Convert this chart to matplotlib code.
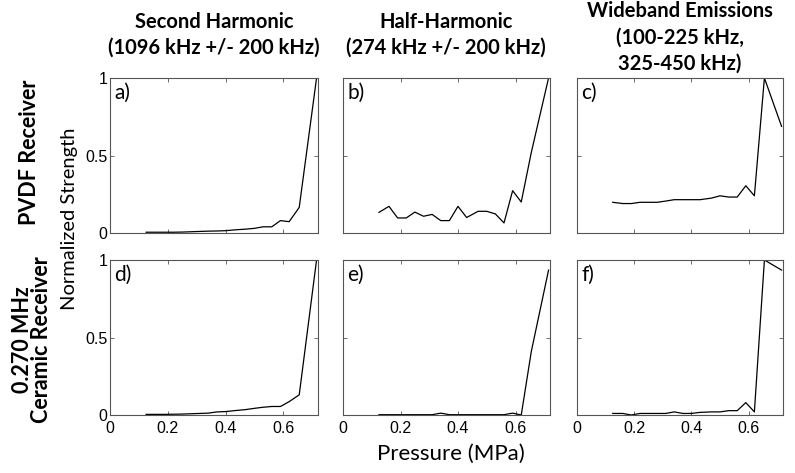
import matplotlib
matplotlib.use("Agg")
import matplotlib.pyplot as plt

pressure = [0.125, 0.16, 0.19, 0.22, 0.25, 0.28, 0.31, 0.34, 0.37, 0.40,
            0.43, 0.47, 0.50, 0.53, 0.56, 0.59, 0.62, 0.655, 0.715]

pvdf_second = [0.005, 0.005, 0.005, 0.005, 0.006, 0.008, 0.01, 0.012, 0.013, 0.015,
               0.02, 0.025, 0.03, 0.04, 0.04, 0.08, 0.073, 0.165, 1.0]
pvdf_half = [0.133, 0.172, 0.097, 0.097, 0.135, 0.108, 0.12, 0.08, 0.08, 0.172,
             0.10, 0.14, 0.14, 0.123, 0.065, 0.273, 0.20, 0.52, 1.0]
pvdf_wide = [0.198, 0.19, 0.19, 0.198, 0.198, 0.198, 0.206, 0.215, 0.215, 0.215,
             0.215, 0.225, 0.24, 0.232, 0.232, 0.305, 0.24, 1.0, 0.688]
cer_second = [0.004, 0.004, 0.004, 0.005, 0.006, 0.008, 0.01, 0.012, 0.02, 0.022,
              0.028, 0.035, 0.043, 0.05, 0.055, 0.055, 0.086, 0.13, 1.0]
cer_half = [0.002, 0.002, 0.002, 0.002, 0.002, 0.002, 0.002, 0.012, 0.002, 0.002,
            0.002, 0.002, 0.002, 0.002, 0.002, 0.012, 0.0, 0.41, 0.935]
cer_wide = [0.01, 0.01, 0.0, 0.01, 0.01, 0.01, 0.01, 0.02, 0.01, 0.01,
            0.017, 0.02, 0.02, 0.028, 0.028, 0.08, 0.02, 1.0, 0.935]

col_titles = ["Second Harmonic\n(1096 kHz +/- 200 kHz)",
              "Half-Harmonic\n(274 kHz +/- 200 kHz)",
              "Wideband Emissions\n(100-225 kHz,\n325-450 kHz)"]
row_titles = ["PVDF Receiver", "0.270 MHz\nCeramic Receiver"]
panel_labels = [["a)", "b)", "c)"], ["d)", "e)", "f)"]]
series = [[pvdf_second, pvdf_half, pvdf_wide], [cer_second, cer_half, cer_wide]]
xticks = [0, 0.2, 0.4, 0.6]
xticklabels = ["0", "0.2", "0.4", "0.6"]
yticks = [0, 0.5, 1]
yticklabels = ["0", "0.5", "1"]

W, H = 795, 473
fig = plt.figure(figsize=(W / 100, H / 100), dpi=100)

lefts = [110, 343, 577]
widths = [208, 207, 206]
tops = [78, 260]
height = 155

title_font = "Lato"
tick_font = "Liberation Sans"
edge = "#555555"

for r in range(2):
    for c in range(3):
        ax = fig.add_axes([lefts[c] / W, 1 - (tops[r] + height) / H, widths[c] / W, height / H])
        ax.plot(pressure, series[r][c], color="black", lw=0.9)
        ax.set_xlim(0, 0.72)
        ax.set_ylim(0, 1)
        ax.set_xticks(xticks)
        ax.set_yticks(yticks)
        ax.tick_params(direction="in", top=True, right=True, length=3, width=0.6,
                       color=edge, pad=4)
        if r == 1:
            ax.set_xticklabels(xticklabels, fontfamily=tick_font, fontsize=11.5)
        else:
            ax.set_xticklabels([])
        if c == 0:
            ax.set_yticklabels(yticklabels, fontfamily=tick_font, fontsize=11.5)
            ax.tick_params(axis="y", pad=2)
        else:
            ax.set_yticklabels([])
        for s in ax.spines.values():
            s.set_color(edge)
            s.set_linewidth(0.8)
        ax.text(0.02, 0.97, panel_labels[r][c], transform=ax.transAxes, ha="left", va="top",
                fontsize=15, fontfamily=title_font)

# column titles
title_centers = [214, 446, 680]
title_bottoms = [58, 58, 74]
for c in range(3):
    fig.text(title_centers[c] / W, 1 - title_bottoms[c] / H, col_titles[c], ha="center",
             va="bottom", fontsize=14.5, fontweight="bold", fontfamily=title_font,
             linespacing=1.4)

# row titles
fig.text(30 / W, 1 - 152 / H, row_titles[0], rotation=90, ha="center", va="center",
         fontsize=15.5, fontweight="bold", fontfamily=title_font)
fig.text(32 / W, 1 - 340 / H, row_titles[1], rotation=90, ha="center", va="center",
         fontsize=15.5, fontweight="bold", fontfamily=title_font, linespacing=0.9)

fig.text(69 / W, 1 - 219 / H, "Normalized Strength", rotation=90, ha="center", va="center",
         fontsize=14.5, fontfamily=title_font)
fig.text(451 / W, 1 - 454 / H, "Pressure (MPa)", ha="center", va="center",
         fontsize=16, fontfamily=title_font)

fig.savefig("out.png", dpi=100)
